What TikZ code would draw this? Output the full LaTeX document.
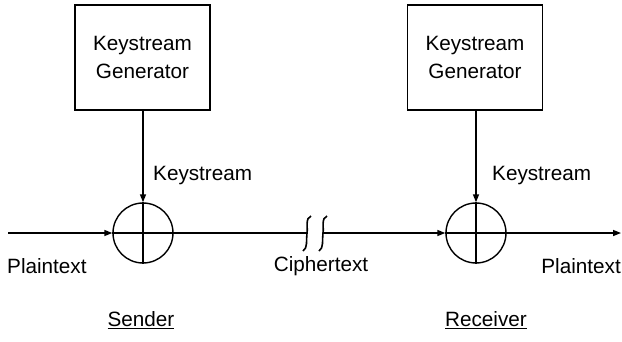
\documentclass[tikz,border=0pt]{standalone}
\usepackage{fontspec}
\setmainfont{Liberation Sans}
\usetikzlibrary{arrows.meta}
\begin{document}
\begin{tikzpicture}[x=1pt,y=-1pt,
  every node/.style={font=\fontsize{20.7}{24}\selectfont, inner sep=0pt},
  gen/.style={draw, line width=1.4pt, minimum width=135pt, minimum height=105pt, align=center},
  xorc/.style={draw, circle, line width=1.4pt, minimum size=60pt},
  ln/.style={line width=1.4pt},
  brk/.style={line width=1.6pt},
  arr/.style={line width=1.4pt, -{Triangle[length=8pt,width=6pt]}}]
\useasboundingbox (0,0) rectangle (622,341);
% sender
\node[gen] (g1) at (142.5,57.5) {Keystream\\[4pt]Generator};
\node[xorc] (c1) at (143,233) {};
\draw[ln] (c1.north) -- (c1.south);
\draw[ln] (c1.west) -- (c1.east);
\draw[arr] (g1.south -| c1.north) -- (c1.north);
\node[anchor=west] (k1) at (153,176) {Keystream};
% receiver
\node[gen] (g2) at (475,57.5) {Keystream\\[4pt]Generator};
\node[xorc] (c2) at (476,233) {};
\draw[ln] (c2.north) -- (c2.south);
\draw[ln] (c2.west) -- (c2.east);
\draw[arr] (g2.south -| c2.north) -- (c2.north);
\node[anchor=west] (k2) at (492,176) {Keystream};
% main line
\coordinate (in) at (8,233);
\coordinate (b1) at (307,233);
\coordinate (b2) at (323,233);
\coordinate (out) at (621,233);
\draw[arr] (in) -- (c1.west);
\draw[ln] (c1.east) -- (b1);
\draw[arr] (b2) -- (c2.west);
\draw[arr] (c2.east) -- (out);
% break marks
\draw[brk] (311,216) .. controls (305,218) and (308,228) .. (307,233) .. controls (306,240) and (308,248) .. (303,251);
\draw[brk] (327,216) .. controls (321,218) and (324,228) .. (323,233) .. controls (322,240) and (324,248) .. (319,251);
% labels
\node[anchor=west] (p1) at (7,266) {Plaintext};
\node (ct) at (321,266) {Ciphertext};
\node[anchor=east] (p2) at (621,266) {Plaintext};
\node (s) at (141,320) {\underline{Sender}};
\node (r) at (486,320) {\underline{Receiver}};
\end{tikzpicture}
\end{document}
